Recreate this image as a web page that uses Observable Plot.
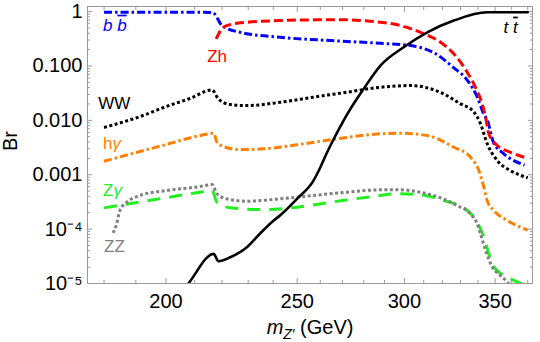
<!DOCTYPE html>
<html><head><meta charset="utf-8">
<script src="https://cdn.jsdelivr.net/npm/d3@7"></script>
<script src="https://cdn.jsdelivr.net/npm/@observablehq/plot@0.6"></script>
<style>body{margin:0;background:#fff} svg{display:block}</style>
</head><body><div id="chart"></div>
<script>
// ---- data (m_Z' in GeV, branching ratio) ----
const bbMass = [180, 190, 200, 210, 216.5, 220.0, 226.8, 242.9, 264.5, 288.0, 303.1, 316.2, 326.1, 334.0, 339.7, 343.2, 345.5, 349.1, 355.1, 368];
const bbBr   = [0.97, 0.97, 0.97, 0.97, 0.96, 0.553, 0.416, 0.337, 0.293, 0.261, 0.237, 0.169, 0.0935, 0.054, 0.0262, 0.0133, 0.0099, 0.0039, 0.00245, 0.0015];

const zhMass = [217.8, 220.5, 224.3, 229.5, 242.9, 256.8, 272.1, 283.1, 298.0, 308.3, 319.0, 327.2, 333.8, 338.5, 342.4, 344.4, 346.3, 351.3, 359.3, 370];
const zhBr   = [0.315, 0.514, 0.594, 0.636, 0.683, 0.704, 0.704, 0.663, 0.553, 0.416, 0.273, 0.155, 0.0766, 0.0406, 0.0201, 0.0115, 0.00565, 0.00344, 0.00259, 0.0020];

const wwMass = [180, 191.3, 200, 208.3, 216.3, 218.6, 223.1, 229.5, 242.9, 256.8, 272.1, 288.0, 303.1, 311.9, 320.6, 330.0, 337.4, 341.4, 345.3, 351.3, 359.3, 370];
const wwBr   = [0.0074, 0.0117, 0.0179, 0.0252, 0.0361, 0.0249, 0.0195, 0.0187, 0.0215, 0.0266, 0.0329, 0.0406, 0.0436, 0.0396, 0.0307, 0.0201, 0.0145, 0.00873, 0.00375, 0.00182, 0.00119, 0.00088];

const haMass = [180, 191.3, 200, 211.9, 216.9, 218.1, 220.5, 226.8, 236.0, 249.9, 264.5, 288.0, 298.0, 311.9, 326.3, 335.7, 340.5, 343.4, 345.3, 349.3, 357.4, 370];
const haBr   = [0.00177, 0.00267, 0.00359, 0.00526, 0.00579, 0.00396, 0.0033, 0.0029, 0.00299, 0.00355, 0.00438, 0.00565, 0.00579, 0.00526, 0.0032, 0.0021, 0.00119, 0.000589, 0.000336, 0.00022, 0.000144, 9.6e-5];

const zzMass = [182.8, 183.9, 184.9, 187.1, 191.3, 200.2, 211.9, 216.3, 218.1, 221.8, 229.5, 242.9, 256.8, 272.1, 288.0, 298.0, 308.3, 319.0, 328.1, 335.7, 339.5, 341.4, 344.4, 348.4, 353.2, 357.4, 362];
const zzBr   = [8.5e-5, 1.25e-4, 2.2e-4, 3.12e-4, 4.15e-4, 5.13e-4, 6.07e-4, 6.6e-4, 4.46e-4, 3.6e-4, 3.26e-4, 3.6e-4, 4.15e-4, 4.77e-4, 5.27e-4, 5.27e-4, 4.77e-4, 3.76e-4, 2.72e-4, 1.91e-4, 1.25e-4, 8.2e-5, 4.05e-5, 2.0e-5, 1.4e-5, 1.06e-5, 7e-6];

const zgMass = [180, 191.3, 200, 211.9, 216.3, 218.1, 223.1, 236.0, 249.9, 264.5, 288.0, 294.6, 306.6, 320.8, 333.8, 339.5, 343.4, 346.3, 349.3, 351.3, 357.4, 365.5, 368];
const zgBr   = [2.46e-4, 3.16e-4, 3.78e-4, 4.77e-4, 5.13e-4, 3.12e-4, 2.46e-4, 2.29e-4, 2.53e-4, 3.12e-4, 4.15e-4, 4.46e-4, 4.32e-4, 3.36e-4, 2.2e-4, 1.34e-4, 7.1e-5, 3.5e-5, 2.0e-5, 1.73e-5, 1.31e-5, 1.01e-5, 9.3e-6];

const ttMass = [205.8, 207.7, 216.9, 218.6, 223.1, 229.5, 234.8, 240.2, 242.9, 249.9, 257.0, 260.0, 263.0, 265.9, 270.5, 272.9, 279.9, 288.0, 299.6, 311.9, 326.3, 345.3, 370];
const ttBr   = [7.5e-6, 9.9e-6, 3.5e-5, 2.57e-5, 3.04e-5, 4.65e-5, 8.4e-5, 1.44e-4, 1.8e-4, 3.6e-4, 7.8e-4, 1.36e-3, 2.56e-3, 4.44e-3, 9.9e-3, 0.0145, 0.0379, 0.1017, 0.221, 0.416, 0.683, 0.97, 0.97];

// curve labels
const labName = ["b b", "Zh", "WW", "hγ", "Zγ", "ZZ", "t t"];
const labMass = [179.7, 214.5, 178.2, 179.7, 179.7, 180.0, 355.1];
const labBr   = [0.562, 0.148, 0.0207, 0.00381, 5.21e-4, 4.77e-5, 0.517];

// ticks
const xMajor = [200, 250, 300, 350];
const xMinor = [180, 190, 210, 220, 230, 240, 260, 270, 280, 290, 310, 320, 330, 340, 360, 370];
const yMajor = [1e-5, 1e-4, 1e-3, 1e-2, 1e-1, 1];
const yTickLabels = ["10⁻⁵", "10⁻⁴", "0.001", "0.010", "0.100", "1"];
const yMinor = yMajor.slice(0, -1).flatMap(d => [2,3,4,5,6,7,8,9].map(k => k * d));

// ---- build ----
const rows = (ms, bs) => ms.map((m, i) => ({m, br: bs[i]}));
const labRows = labName.map((n, i) => ({name: n, m: labMass[i], br: labBr[i]}));

const BLUE = "#0000ff", RED = "#ff0000", ORANGE = "#ff8000", GREEN = "#22ee22", GRAY = "#808080", BLACK = "#000";
const labColor = {"b b": BLUE, "Zh": RED, "WW": BLACK, "hγ": ORANGE, "Zγ": GREEN, "ZZ": GRAY, "t t": BLACK};
const AX = "#9a9a9a";
const dashDot = "8,3,2.5,3";

const lineOpts = (stroke, dash, w = 3) => ({x: "m", y: "br", stroke, strokeWidth: w, strokeDasharray: dash, strokeLinecap: "butt", curve: "monotone-x", clip: true});

const svg = Plot.plot({
  width: 540, height: 342,
  marginLeft: 87, marginRight: 8, marginTop: 6, marginBottom: 59,
  x: {type: "log", domain: [175, 373], label: null},
  y: {type: "log", domain: [1e-5, 1.24], label: null},
  style: {fontFamily: "'Liberation Sans', Arial, sans-serif", background: "#fff", color: "#000"},
  marks: [
    // inward ticks
    Plot.axisX(xMajor, {anchor: "bottom", tickSize: -5, tickFormat: () => "", stroke: AX, label: null}),
    Plot.axisX(xMinor, {anchor: "bottom", tickSize: -3, tickFormat: () => "", stroke: AX, label: null}),
    Plot.axisX(xMajor, {anchor: "top", tickSize: -5, tickFormat: () => "", stroke: AX, label: null}),
    Plot.axisX(xMinor, {anchor: "top", tickSize: -3, tickFormat: () => "", stroke: AX, label: null}),
    Plot.axisY(yMajor, {anchor: "left", tickSize: -5, tickFormat: () => "", stroke: AX, label: null}),
    Plot.axisY(yMinor, {anchor: "left", tickSize: -3, tickFormat: () => "", stroke: AX, label: null}),
    Plot.axisY(yMajor, {anchor: "right", tickSize: -5, tickFormat: () => "", stroke: AX, label: null}),
    Plot.axisY(yMinor, {anchor: "right", tickSize: -3, tickFormat: () => "", stroke: AX, label: null}),
    // tick labels
    Plot.axisX(xMajor, {anchor: "bottom", tickSize: 0, tickPadding: 10, fontSize: 20, fill: "#000", tickFormat: d => String(d), label: null}),
    Plot.axisY(yMajor, {anchor: "left", tickSize: 0, tickPadding: 5, fontSize: 20, fill: "#000", tickFormat: (d, i) => yTickLabels[yMajor.indexOf(d)], label: null}),
    Plot.frame({stroke: AX}),
    // curves
    Plot.line(rows(zgMass, zgBr), lineOpts(GREEN, "13,9")),
    Plot.line(rows(zzMass, zzBr), lineOpts(GRAY, "3,2.5")),
    Plot.line(rows(haMass, haBr), lineOpts(ORANGE, dashDot)),
    Plot.line(rows(wwMass, wwBr), lineOpts(BLACK, "3,2.5")),
    Plot.line(rows(bbMass, bbBr), lineOpts(BLUE, dashDot)),
    Plot.line(rows(zhMass, zhBr), lineOpts(RED, "9,4")),
    Plot.line(rows(ttMass, ttBr), {x: "m", y: "br", stroke: BLACK, strokeWidth: 2.6, curve: "monotone-x", clip: true}),
    // curve labels
    ...labRows.map(d => Plot.text([d], {x: "m", y: "br", text: "name", fill: labColor[d.name], fontSize: 17, textAnchor: "start", lineAnchor: "middle"})),
    // axis titles
    Plot.text(["Br"], {frameAnchor: "left", dx: -77, dy: 6, rotate: -90, fontSize: 20, fill: "#000", lineAnchor: "middle"}),
    Plot.text(["mZ′ (GeV)"], {frameAnchor: "bottom", dx: 0, dy: 44, fontSize: 20, fill: "#000", lineAnchor: "middle"})
  ]
});

// rich text touches (italic, overline, subscript)
d3.select(svg).selectAll("text").each(function () {
  const t = d3.select(this);
  const s = t.text();
  if (s === "b b" || s === "t t") {
    const ch = s[0];
    t.text(null).attr("font-style", "italic");
    t.append("tspan").text(ch + " ");
    t.append("tspan").style("text-decoration", "overline").text(ch);
  } else if (s === "mZ′ (GeV)") {
    t.text(null);
    t.append("tspan").attr("font-style", "italic").text("m");
    t.append("tspan").attr("font-style", "italic").attr("font-size", 14).attr("dy", 5).text("Z′");
    t.append("tspan").attr("dy", -5).text(" (GeV)");
  } else if (s === "hγ" || s === "Zγ") {
    t.text(null);
    t.append("tspan").text(s[0]);
    t.append("tspan").attr("font-style", "italic").text("γ");
  }
});

document.getElementById("chart").appendChild(svg);
</script>
</body></html>
